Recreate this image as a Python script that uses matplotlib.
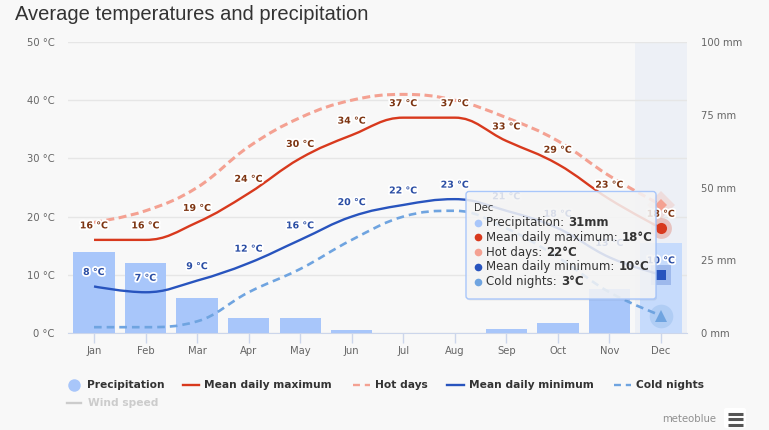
import numpy as np
import matplotlib
matplotlib.use("Agg")
import matplotlib.pyplot as plt
import matplotlib.patheffects as pe
from matplotlib.path import Path
from matplotlib.patches import PathPatch, FancyBboxPatch
from matplotlib.lines import Line2D

plt.rcParams['font.family'] = 'DejaVu Sans'
plt.rcParams['lines.scale_dashes'] = False

# data
months = ['Jan', 'Feb', 'Mar', 'Apr', 'May', 'Jun', 'Jul', 'Aug', 'Sep', 'Oct', 'Nov', 'Dec']
precipitation = [28, 24, 12, 5, 5, 1, 0, 0, 1.5, 3.5, 15, 31]
mean_max = [16, 16, 19, 24, 30, 34, 37, 37, 33, 29, 23, 18]
hot_days = [19, 21, 25, 32, 37, 40, 41, 40, 37, 33, 27, 22]
mean_min = [8, 7, 9, 12, 16, 20, 22, 23, 21, 18, 13, 10]
cold_nights = [1, 1, 2, 7, 11, 16, 20, 21, 18, 13, 7, 3]
temp_ticks = [0, 10, 20, 30, 40, 50]
mm_ticks = [0, 25, 50, 75, 100]

bar_c = '#a8c6fa'
max_c = '#d8391d'
hot_c = '#f4a192'
min_c = '#2854be'
cold_c = '#6fa4e0'
max_lab = '#7d3512'
min_lab = '#2b4ea4'
BG = '#f8f8f8'
W, H = 769, 430


def spline(xs, ys, smoothing=1.5):
    # highcharts-like spline: bezier control points per point
    n = len(xs)
    lc = [(x, y) for x, y in zip(xs, ys)]
    rc = [(x, y) for x, y in zip(xs, ys)]
    d = smoothing + 1
    for i in range(1, n - 1):
        x, y = xs[i], ys[i]
        lx, ly, nx, ny = xs[i - 1], ys[i - 1], xs[i + 1], ys[i + 1]
        lcx = (smoothing * x + lx) / d
        lcy = (smoothing * y + ly) / d
        rcx = (smoothing * x + nx) / d
        rcy = (smoothing * y + ny) / d
        corr = (rcy - lcy) * (rcx - x) / (rcx - lcx) + y - rcy
        lcy += corr
        rcy += corr
        if lcy > ly and lcy > y:
            lcy = max(ly, y); rcy = 2 * y - lcy
        elif lcy < ly and lcy < y:
            lcy = min(ly, y); rcy = 2 * y - lcy
        if rcy > ny and rcy > y:
            rcy = max(ny, y); lcy = 2 * y - rcy
        elif rcy < ny and rcy < y:
            rcy = min(ny, y); lcy = 2 * y - rcy
        lc[i] = (lcx, lcy)
        rc[i] = (rcx, rcy)
    verts = [(xs[0], ys[0])]
    codes = [Path.MOVETO]
    for i in range(1, n):
        verts += [rc[i - 1], lc[i], (xs[i], ys[i])]
        codes += [Path.CURVE4] * 3
    return Path(verts, codes)


fig = plt.figure(figsize=(W / 100, H / 100), dpi=100, facecolor=BG)
rect = [68.25 / W, 97 / H, 618.5 / W, 291 / H]
x = np.arange(len(months))

# base axes: background, grid, temperature labels
ax = fig.add_axes(rect, zorder=0)
ax.set_facecolor(BG)
ax.set_xlim(-0.5, 11.5)
ax.set_ylim(0, 50)
ax.set_yticks(temp_ticks)
ax.set_yticklabels([f'{v} °C' for v in temp_ticks])
ax.set_xticks(x)
ax.set_xticklabels(months)
ax.tick_params(axis='y', length=0, pad=10, labelsize=7.2, labelcolor='#666666')
ax.tick_params(axis='x', length=7, width=1, color='#ccd6eb', pad=2.5,
               labelsize=7.2, labelcolor='#666666')
ax.grid(axis='y', color='#e6e6e6', lw=1)
for s in ['left', 'right', 'top']:
    ax.spines[s].set_visible(False)
ax.spines['bottom'].set_color('#ccd6eb')
ax.axvspan(10.5, 11.5, color='#edf0f6', lw=0)

# precipitation bars
axp = ax.twinx()
axp.set_zorder(1)
axp.patch.set_visible(False)
axp.set_ylim(0, 100)
axp.set_yticks(mm_ticks)
axp.set_yticklabels([f'{v} mm' for v in mm_ticks])
axp.tick_params(axis='y', length=0, pad=10, labelsize=7.2, labelcolor='#666666')
for s in axp.spines.values():
    s.set_visible(False)
bar_colors = [bar_c] * 11 + ['#c6dbfc']
axp.bar(x, precipitation, width=0.8, color=bar_colors, lw=0)

# temperature lines on top
axl = fig.add_axes(rect, zorder=2, sharex=ax, sharey=ax)
axl.patch.set_visible(False)
axl.axis('off')

series = [
    (hot_days, hot_c, 2.2, (0, (5.8, 3.2))),
    (cold_nights, cold_c, 1.9, (0, (5.5, 3.6))),
    (mean_max, max_c, 1.7, '-'),
    (mean_min, min_c, 1.7, '-'),
]
for vals, c, lw, ls in series:
    axl.add_patch(PathPatch(spline(list(x), list(vals)), fill=False, edgecolor=c,
                            lw=lw, linestyle=ls, capstyle='butt', joinstyle='round'))

outline = [pe.withStroke(linewidth=2.6, foreground='white')]
for i, v in enumerate(mean_max):
    axl.annotate(f'{v} °C', (x[i], v), xytext=(0, 14), textcoords='offset pixels',
                 ha='center', va='center', fontsize=6.8, fontweight='bold',
                 color=max_lab, path_effects=outline)
for i, v in enumerate(mean_min):
    axl.annotate(f'{v} °C', (x[i], v), xytext=(0, 14), textcoords='offset pixels',
                 ha='center', va='center', fontsize=6.8, fontweight='bold',
                 color=min_lab, path_effects=outline)

# hovered December markers with halos
d = 11
axl.plot(d, hot_days[d], 'D', ms=14, color=hot_c, alpha=0.25, mew=0)
axl.plot(d, hot_days[d], 'D', ms=6.5, color=hot_c, mew=0)
axl.plot(d, mean_max[d], 'o', ms=15, color=max_c, alpha=0.25, mew=0)
axl.plot(d, mean_max[d], 'o', ms=8, color=max_c, mew=0)
axl.plot(d, mean_min[d], 's', ms=15, color=min_c, alpha=0.25, mew=0)
axl.plot(d, mean_min[d], 's', ms=7.5, color=min_c, mew=0)
axl.plot(d, cold_nights[d], 'o', ms=17, color=cold_c, alpha=0.25, mew=0)
axl.plot(d, cold_nights[d], '^', ms=9, color=cold_c, mew=0)

# overlay in pixel coordinates: title, legend, tooltip, credits
ov = fig.add_axes([0, 0, 1, 1], zorder=3)
ov.set_xlim(0, W)
ov.set_ylim(H, 0)
ov.axis('off')
ov.patch.set_visible(False)

ov.text(15, 20.5, 'Average temperatures and precipitation', fontsize=14.5,
        family='Liberation Sans', color='#333333', va='baseline')

ly = 385
lfont = dict(fontsize=7.7, fontweight='bold', color='#333333', va='center')
ov.plot(74, ly, 'o', ms=9, color=bar_c, mew=0)
ov.text(87.5, ly, 'Precipitation', **lfont)
ov.plot([183, 199], [ly, ly], color=max_c, lw=1.7)
ov.text(204, ly, 'Mean daily maximum', **lfont)
ov.add_line(Line2D([353, 370], [ly, ly], color=hot_c, lw=1.7, ls=(0, (5, 3.5))))
ov.text(375, ly, 'Hot days', **lfont)
ov.plot([447, 464], [ly, ly], color=min_c, lw=1.7)
ov.text(469, ly, 'Mean daily minimum', **lfont)
ov.add_line(Line2D([614, 631], [ly, ly], color=cold_c, lw=1.7, ls=(0, (5, 3.5))))
ov.text(636, ly, 'Cold nights', **lfont)
ov.plot([67, 81], [403, 403], color='#cccccc', lw=1.7)
ov.text(87.5, 403, 'Wind speed', fontsize=7.7, fontweight='bold', color='#cccccc', va='center')

ov.text(716, 419, 'meteoblue', fontsize=7.3, color='#909090', ha='right', va='center')
ov.add_patch(FancyBboxPatch((724, 408), 22, 20, boxstyle='round,pad=0,rounding_size=2',
                            facecolor='white', edgecolor='none'))
for yy in [413.5, 419, 424.5]:
    ov.plot([728, 743], [yy, yy], color='#555555', lw=2.2, solid_capstyle='butt')

# tooltip
ov.add_patch(FancyBboxPatch((467, 193), 190, 107.5, boxstyle='round,pad=0,rounding_size=3',
                            facecolor='black', alpha=0.06, edgecolor='none'))
ov.add_patch(FancyBboxPatch((466, 191.5), 190, 107.5, boxstyle='round,pad=0,rounding_size=3',
                            facecolor=(247 / 255, 247 / 255, 247 / 255, 0.85),
                            edgecolor=bar_c, lw=1))
ov.text(474, 208, 'Dec', fontsize=7.2, color='#333333', va='center')
rows = [
    ('Precipitation: ', f'{precipitation[d]:g}mm', bar_c),
    ('Mean daily maximum: ', f'{mean_max[d]}°C', max_c),
    ('Hot days: ', f'{hot_days[d]}°C', hot_c),
    ('Mean daily minimum: ', f'{mean_min[d]}°C', min_c),
    ('Cold nights: ', f'{cold_nights[d]}°C', cold_c),
]
fig.canvas.draw()
r = fig.canvas.get_renderer()
inv = ov.transData.inverted()
for k, (lab, val, c) in enumerate(rows):
    yy = 222.5 + k * 14.8
    ov.plot(478, yy, 'o', ms=5.5, color=c, mew=0)
    t = ov.text(486.5, yy, lab, fontsize=8.5, color='#333333', va='center')
    bb = t.get_window_extent(renderer=r)
    xe = inv.transform((bb.x1, bb.y0))[0]
    ov.text(xe, yy, val, fontsize=8.5, fontweight='bold', color='#333333', va='center')

fig.savefig('out.png', dpi=100, facecolor=BG)
